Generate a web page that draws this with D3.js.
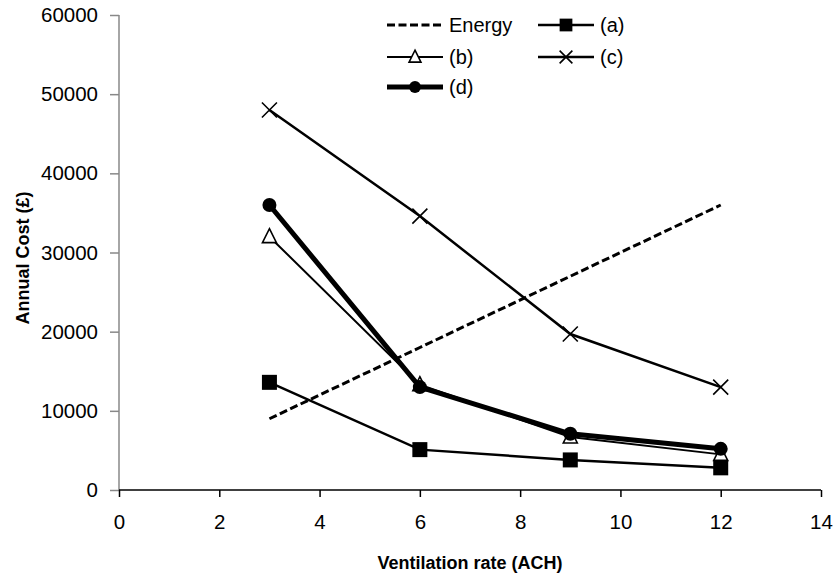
<!DOCTYPE html>
<html>
<head>
<meta charset="utf-8">
<script src="https://cdn.jsdelivr.net/npm/d3@7"></script>
<style>
    body { margin: 0; background: #fff; }
    text { font-family: "Liberation Sans", Arial, sans-serif; fill: #000; }
</style>
</head>
<body>
<script>
// values
const rates = [3, 6, 9, 12];
const energy = [9000, 18000, 27000, 36000];
const costA = [13600, 5100, 3800, 2800];
const costB = [32000, 13300, 6700, 4500];
const costC = [48000, 34600, 19700, 13000];
const costD = [36000, 13000, 7100, 5200];
const xTicks = [0, 2, 4, 6, 8, 10, 12, 14];
const yTicks = [0, 10000, 20000, 30000, 40000, 50000, 60000];

run();

function run() {
    let width = 837, height = 575;

    let svg = d3.select("body")
        .append("svg")
        .attr("width", width)
        .attr("height", height);

    let x = d3.scaleLinear().domain([0, 14]).range([119, 821]);
    let y = d3.scaleLinear().domain([0, 60000]).range([490, 15]);

    // y axis (grey)
    let yAxis = svg.append("g")
        .attr("transform", "translate(119,0)")
        .call(d3.axisLeft(y).tickValues(yTicks).tickSize(9).tickPadding(12).tickFormat(d3.format("d")));
    yAxis.selectAll("path, line").attr("stroke", "#888").attr("stroke-width", 1.5);
    yAxis.select(".domain").attr("d", "M0," + y(60000) + "V" + y(0));
    yAxis.selectAll("text").attr("font-size", 20.5).attr("font-family", "Liberation Sans, Arial");

    // x axis (black)
    let xAxis = svg.append("g")
        .attr("transform", "translate(0,490)")
        .call(d3.axisBottom(x).tickValues(xTicks).tickSize(7).tickPadding(17));
    xAxis.selectAll("path, line").attr("stroke", "#000").attr("stroke-width", 1.5);
    xAxis.select(".domain").attr("d", "M" + x(0) + ",0H" + x(14));
    xAxis.selectAll("text").attr("font-size", 20.5).attr("font-family", "Liberation Sans, Arial");

    svg.append("text")
        .attr("x", 470).attr("y", 569)
        .attr("text-anchor", "middle")
        .attr("font-size", 18).attr("font-weight", "bold")
        .text("Ventilation rate (ACH)");

    svg.append("text")
        .attr("transform", "translate(29,258) rotate(-90)")
        .attr("text-anchor", "middle")
        .attr("font-size", 18).attr("font-weight", "bold")
        .text("Annual Cost (£)");

    let series = [
        { name: "Energy", values: energy, width: 3, dash: "8,3.5", marker: null },
        { name: "(a)", values: costA, width: 2.5, dash: null, marker: "square" },
        { name: "(b)", values: costB, width: 2, dash: null, marker: "triangle" },
        { name: "(c)", values: costC, width: 2.5, dash: null, marker: "cross" },
        { name: "(d)", values: costD, width: 5, dash: null, marker: "circle" }
    ];

    let line = d3.line()
        .x(function (d) { return x(d[0]); })
        .y(function (d) { return y(d[1]); });

    let plot = svg.append("g");
    series.forEach(function (s) {
        let pts = rates.map(function (r, i) { return [r, s.values[i]]; });
        plot.append("path")
            .attr("d", line(pts))
            .attr("fill", "none")
            .attr("stroke", "#000")
            .attr("stroke-width", s.width)
            .attr("stroke-dasharray", s.dash);
        pts.forEach(function (p) {
            drawMarker(plot, s.marker, x(p[0]), y(p[1]), 1);
        });
    });

    // legend
    let legendPos = [
        [387, 25], [538, 25],
        [387, 57], [538, 57],
        [387, 87]
    ];
    series.forEach(function (s, i) {
        let lx = legendPos[i][0], ly = legendPos[i][1];
        let len = 56;
        svg.append("line")
            .attr("x1", lx).attr("x2", lx + len)
            .attr("y1", ly).attr("y2", ly)
            .attr("stroke", "#000")
            .attr("stroke-width", s.width)
            .attr("stroke-dasharray", s.dash);
        drawMarker(svg, s.marker, lx + len / 2, ly, 0.85);
        svg.append("text")
            .attr("x", lx + len + 6).attr("y", ly + 7)
            .attr("font-size", 20)
            .text(s.name);
    });
}

function drawMarker(g, type, cx, cy, k) {
    if (type === "square") {
        let h = 7.5 * k;
        g.append("rect")
            .attr("x", cx - h).attr("y", cy - h)
            .attr("width", 2 * h).attr("height", 2 * h)
            .attr("fill", "#000");
    } else if (type === "triangle") {
        g.append("path")
            .attr("d", "M" + cx + "," + (cy - 8 * k) + "L" + (cx + 7 * k) + "," + (cy + 6 * k) +
                "L" + (cx - 7 * k) + "," + (cy + 6 * k) + "Z")
            .attr("fill", "#fff")
            .attr("stroke", "#000")
            .attr("stroke-width", 1.6);
    } else if (type === "cross") {
        let h = 7.5 * k;
        g.append("path")
            .attr("d", "M" + (cx - h) + "," + (cy - h) + "L" + (cx + h) + "," + (cy + h) +
                "M" + (cx + h) + "," + (cy - h) + "L" + (cx - h) + "," + (cy + h))
            .attr("stroke", "#000")
            .attr("stroke-width", 1.6);
    } else if (type === "circle") {
        g.append("circle")
            .attr("cx", cx).attr("cy", cy).attr("r", 7 * k)
            .attr("fill", "#000");
    }
}
</script>
</body>
</html>
